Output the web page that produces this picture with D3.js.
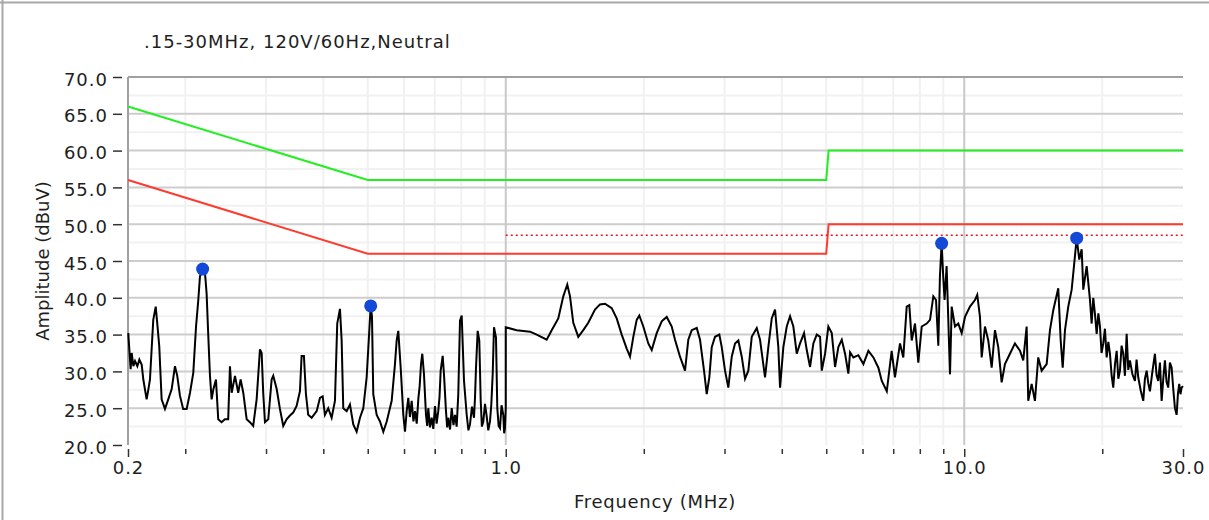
<!DOCTYPE html>
<html>
<head>
<meta charset="utf-8">
<script src="https://cdn.jsdelivr.net/npm/d3@7"></script>
<style>
  body { margin: 0; background: #fff; }
  svg { display: block; font-family: "DejaVu Sans", Verdana, sans-serif; }
</style>
</head>
<body>
<svg id="chart" width="1209" height="520"></svg>
<script>
// axis ticks
var yTicks = [20, 25, 30, 35, 40, 45, 50, 55, 60, 65, 70];
var yMinor = [22.5, 27.5, 32.5, 37.5, 42.5, 47.5, 52.5, 57.5, 62.5, 67.5];
var xMajor = [0.15, 1, 10, 30];
var xMajorLabels = ["0.2", "1.0", "10.0", "30.0"];
var xMinor = [0.2, 0.3, 0.4, 0.5, 0.6, 0.7, 0.8, 0.9, 2, 3, 4, 5, 6, 7, 8, 9, 20];

// limit lines (dBuV)
var limitFreqs = [0.15, 0.5, 5.0, 5.06, 30];
var qpLimit    = [66, 56, 56, 60, 60];
var avgLimit   = [56, 46, 46, 50, 50];
var marginFreqs = [1.0, 30];
var marginLevel = [48.5, 48.5];

// measured trace, 0.15 - 1 MHz sweep
var lowFreqs = [0.1502, 0.1520, 0.1528, 0.1541, 0.1554, 0.1572, 0.1588, 0.1607, 0.1620, 0.1647,
  0.1661, 0.1675, 0.1689, 0.1703, 0.1724, 0.1737, 0.1755, 0.1776, 0.1806, 0.1836,
  0.1868, 0.1899, 0.1921, 0.1947, 0.1979, 0.2014, 0.2048, 0.2082, 0.2111, 0.2135,
  0.2153, 0.2182, 0.2208, 0.2226, 0.2245, 0.2264, 0.2283, 0.2302, 0.2333, 0.2360,
  0.2400, 0.2440, 0.2481, 0.2503, 0.2525, 0.2567, 0.2609, 0.2641, 0.2676, 0.2722,
  0.2767, 0.2813, 0.2862, 0.2910, 0.2935, 0.2958, 0.2984, 0.3034, 0.3086, 0.3111,
  0.3165, 0.3217, 0.3271, 0.3327, 0.3383, 0.3439, 0.3498, 0.3557, 0.3587, 0.3629,
  0.3666, 0.3708, 0.3773, 0.3869, 0.3933, 0.3987, 0.4033, 0.4100, 0.4171, 0.4241,
  0.4290, 0.4349, 0.4386, 0.4422, 0.4498, 0.4573, 0.4650, 0.4729, 0.4809, 0.4890,
  0.4973, 0.5039, 0.5075, 0.5108, 0.5141, 0.5230, 0.5318, 0.5407, 0.5500, 0.5639,
  0.5733, 0.5782, 0.5829, 0.5900, 0.5978, 0.6029, 0.6080, 0.6130, 0.6180, 0.6235,
  0.6290, 0.6341, 0.6395, 0.6449, 0.6490, 0.6534, 0.6576, 0.6632, 0.6699, 0.6740,
  0.6777, 0.6835, 0.6893, 0.6950, 0.7009, 0.7066, 0.7125, 0.7170, 0.7212, 0.7285,
  0.7333, 0.7407, 0.7450, 0.7492, 0.7558, 0.7623, 0.7690, 0.7750, 0.7815, 0.7879,
  0.7947, 0.8015, 0.8109, 0.8219, 0.8290, 0.8356, 0.8440, 0.8526, 0.8570, 0.8612,
  0.8685, 0.8756, 0.8818, 0.8870, 0.8934, 0.9010, 0.9088, 0.9160, 0.9239, 0.9300,
  0.9365, 0.9426, 0.9522, 0.9584, 0.9650, 0.9715, 0.9790, 0.9877, 0.9920, 0.9960,
  1.0000];
var lowAmps = [35.2, 30.3, 32.5, 30.7, 31.4, 30.7, 31.6, 30.9, 28.9, 26.2,
  27.5, 28.9, 33.0, 37.0, 38.8, 36.6, 33.4, 26.2, 24.9, 26.2,
  27.6, 30.7, 29.4, 26.7, 24.9, 24.9, 27.1, 29.8, 36.1, 39.7,
  42.9, 43.9, 43.4, 40.6, 34.8, 29.4, 26.2, 27.5, 28.9, 23.5,
  23.1, 23.5, 23.5, 30.7, 27.1, 29.4, 27.1, 28.9, 27.1, 23.5,
  23.1, 22.6, 26.2, 33.0, 32.5, 27.1, 23.1, 23.5, 28.9, 29.4,
  27.6, 24.9, 22.6, 23.5, 24.0, 24.4, 25.3, 27.3, 32.1, 32.1,
  26.9, 24.1, 23.7, 24.6, 26.4, 26.6, 24.1, 25.0, 23.7, 26.0,
  36.5, 38.5, 34.2, 25.0, 24.6, 25.5, 22.8, 21.8, 23.7, 25.0,
  29.2, 35.5, 38.9, 37.4, 26.9, 24.1, 23.2, 21.8, 23.2, 26.0,
  31.0, 34.2, 35.5, 30.5, 24.1, 21.8, 24.6, 26.4, 23.8, 26.0,
  23.2, 24.6, 22.9, 26.4, 28.0, 31.0, 32.4, 29.6, 24.1, 22.6,
  25.0, 22.4, 23.7, 22.2, 25.3, 22.9, 24.6, 26.5, 30.1, 32.1,
  29.6, 24.6, 22.4, 23.7, 22.1, 25.0, 22.7, 24.1, 22.5, 26.9,
  36.9, 37.6, 28.7, 24.1, 22.0, 22.8, 25.2, 23.7, 26.5, 30.5,
  35.5, 34.2, 26.0, 22.5, 23.2, 25.6, 23.9, 22.0, 23.2, 25.5,
  29.6, 36.0, 34.6, 25.0, 22.6, 22.3, 25.4, 24.1, 21.6, 22.3,
  25.0];

// measured trace, 1 - 30 MHz sweep
var highFreqs = [1.0000, 1.0564, 1.1295, 1.1681, 1.2282, 1.2595, 1.3019, 1.3350, 1.3621, 1.3808,
  1.4038, 1.4395, 1.4760, 1.5135, 1.5654, 1.6053, 1.6461, 1.7025, 1.7457, 1.7903,
  1.8357, 1.8664, 1.8976, 1.9302, 1.9556, 1.9954, 2.0460, 2.0814, 2.1343, 2.1887,
  2.2442, 2.3014, 2.3398, 2.3993, 2.4602, 2.5013, 2.5446, 2.6092, 2.6529, 2.7068,
  2.7436, 2.7797, 2.8136, 2.8605, 2.9229, 2.9585, 3.0078, 3.0580, 3.1110, 3.1628,
  3.2156, 3.2713, 3.3258, 3.3813, 3.4397, 3.5270, 3.5861, 3.6772, 3.7385, 3.8033,
  3.8667, 3.9312, 3.9652, 4.0314, 4.1008, 4.1695, 4.2391, 4.3121, 4.3843, 4.4733,
  4.5342, 4.6101, 4.6871, 4.7678, 4.8476, 4.8893, 4.9707, 5.0536, 5.1412, 5.2269,
  5.3140, 5.4064, 5.4965, 5.5881, 5.6364, 5.7305, 5.8760, 6.0257, 6.1786, 6.3361,
  6.4969, 6.6095, 6.7772, 6.9458, 7.0615, 7.2427, 7.3637, 7.4904, 7.5889, 7.6814,
  7.8094, 7.9396, 8.0773, 8.2823, 8.4210, 8.5616, 8.6787, 8.7789, 8.8500, 8.9261,
  8.9978, 9.0597, 9.1527, 9.3095, 9.3896, 9.5460, 9.7052, 9.8723, 10.037, 10.292,
  10.553, 10.676, 10.822, 10.915, 11.097, 11.282, 11.477, 11.668, 11.863, 12.067,
  12.268, 12.580, 12.900, 13.228, 13.449, 13.680, 13.790, 14.029, 14.262, 14.500,
  14.752, 15.126, 15.380, 15.637, 16.034, 16.231, 16.396, 16.585, 16.861, 17.152,
  17.351, 17.588, 17.819, 18.036, 18.181, 18.494, 18.803, 18.960, 19.117, 19.280,
  19.446, 19.610, 19.770, 19.930, 20.100, 20.270, 20.446, 20.620, 20.788, 20.960,
  21.135, 21.320, 21.499, 21.680, 21.858, 22.040, 22.223, 22.410, 22.606, 22.790,
  22.983, 23.270, 23.567, 23.760, 23.960, 24.260, 24.571, 24.780, 24.994, 25.200,
  25.410, 25.730, 26.055, 26.270, 26.490, 26.720, 26.948, 27.170, 27.397, 27.620,
  27.854, 28.090, 28.336, 28.570, 28.808, 29.055, 29.250, 29.437, 29.620, 29.794,
  30.000];
var highAmps = [36.0, 35.6, 35.4, 35.0, 34.3, 35.6, 37.2, 40.2, 41.8, 40.2,
  36.6, 34.7, 35.6, 36.6, 38.4, 39.1, 39.2, 38.6, 37.2, 35.0,
  33.1, 32.0, 34.7, 37.0, 37.6, 36.1, 33.8, 32.9, 35.2, 36.8,
  37.4, 36.1, 34.3, 32.0, 30.1, 34.3, 35.6, 35.9, 34.3, 30.1,
  26.9, 29.2, 33.3, 34.7, 35.0, 33.3, 30.1, 27.8, 32.0, 33.8,
  34.2, 32.0, 29.0, 30.1, 34.7, 35.9, 34.3, 29.2, 33.3, 37.2,
  38.4, 33.3, 27.8, 33.3, 36.1, 37.5, 36.1, 32.4, 33.8, 35.2,
  32.9, 30.6, 33.8, 35.0, 34.7, 30.1, 32.4, 36.1, 35.2, 30.6,
  33.3, 34.3, 32.4, 29.7, 32.6, 31.9, 32.2, 31.0, 32.8, 31.9,
  30.5, 28.7, 27.3, 32.8, 29.2, 33.8, 31.9, 38.8, 39.0, 34.2,
  36.5, 31.2, 36.1, 36.5, 37.0, 40.2, 39.7, 33.5, 42.9, 47.4,
  42.9, 39.7, 44.3, 29.6, 38.8, 36.1, 36.5, 35.2, 37.4, 38.8,
  39.7, 40.4, 37.4, 31.9, 36.1, 34.2, 30.5, 35.6, 33.3, 28.5,
  31.0, 32.4, 33.8, 32.8, 31.5, 36.1, 26.0, 28.3, 26.0, 31.9,
  30.1, 31.0, 35.6, 38.3, 41.3, 34.2, 30.5, 35.6, 38.8, 41.1,
  44.3, 48.1, 45.2, 46.6, 41.1, 44.3, 39.7, 36.5, 40.0, 37.8,
  35.1, 37.9, 36.1, 32.5, 33.8, 35.8, 31.9, 34.0, 32.4, 29.5,
  27.8, 31.0, 32.8, 29.0, 30.1, 33.5, 32.4, 29.4, 35.1, 30.2,
  31.5, 29.6, 28.7, 31.6, 29.2, 27.4, 26.0, 29.0, 30.1, 28.4,
  27.3, 30.0, 32.4, 29.5, 28.7, 31.2, 26.0, 29.0, 31.5, 28.6,
  27.8, 31.2, 30.5, 27.6, 25.0, 24.1, 27.0, 28.3, 26.9, 27.8,
  28.0];

// peak markers
var peakFreqs = [0.2182, 0.5075, 8.9261, 17.588];
var peakAmps  = [43.9, 38.9, 47.4, 48.1];

var svg = d3.select("#chart");
var textColor = "#1e1e1e";

var x = d3.scaleLog().domain([0.15, 30]).range([128, 1183]);
var y = d3.scaleLinear().domain([20, 70]).range([445, 77]);

// outer frame (top and left edges)
svg.append("line").attr("x1", 0).attr("x2", 1209).attr("y1", 2.5).attr("y2", 2.5)
  .attr("stroke", "#a8a8a8").attr("stroke-width", 2);
svg.append("line").attr("x1", 2.5).attr("x2", 2.5).attr("y1", 0).attr("y2", 520)
  .attr("stroke", "#a8a8a8").attr("stroke-width", 2);

// grid
var grid = svg.append("g");
grid.selectAll(".hminor").data(yMinor).enter().append("line")
  .attr("x1", x(0.15)).attr("x2", x(30))
  .attr("y1", d => y(d)).attr("y2", d => y(d))
  .attr("stroke", "#f1f1f1").attr("stroke-width", 2);
grid.selectAll(".vminor").data(xMinor).enter().append("line")
  .attr("x1", d => x(d)).attr("x2", d => x(d))
  .attr("y1", y(70)).attr("y2", y(20))
  .attr("stroke", "#f1f1f1").attr("stroke-width", 2);
grid.selectAll(".hmajor").data(yTicks.slice(1, -1)).enter().append("line")
  .attr("x1", x(0.15)).attr("x2", x(30))
  .attr("y1", d => y(d)).attr("y2", d => y(d))
  .attr("stroke", "#cdcdcd").attr("stroke-width", 2);
grid.selectAll(".vmajor").data([1, 10]).enter().append("line")
  .attr("x1", d => x(d)).attr("x2", d => x(d))
  .attr("y1", y(70)).attr("y2", y(20))
  .attr("stroke", "#c8c8c8").attr("stroke-width", 2);
// plot frame top + left
grid.append("line").attr("x1", x(0.15)).attr("x2", x(30)).attr("y1", y(70)).attr("y2", y(70))
  .attr("stroke", "#a0a0a0").attr("stroke-width", 2);
grid.append("line").attr("x1", x(0.15)).attr("x2", x(0.15)).attr("y1", y(70)).attr("y2", y(20))
  .attr("stroke", "#a0a0a0").attr("stroke-width", 2);

// axes
var yAxis = svg.append("g").attr("transform", "translate(122,0)")
  .call(d3.axisLeft(y).tickValues(yTicks).tickFormat(d3.format(".1f")).tickSize(9).tickPadding(5));
var xAxis = svg.append("g").attr("transform", "translate(0,449)")
  .call(d3.axisBottom(x).tickValues(xMajor).tickFormat((d, i) => xMajorLabels[i]).tickSize(8).tickPadding(4));
var xAxisMinor = svg.append("g").attr("transform", "translate(0,449)")
  .call(d3.axisBottom(x).tickValues(xMinor).tickFormat("").tickSize(5));

[yAxis, xAxis, xAxisMinor].forEach(function(a) {
  a.select(".domain").remove();
  a.selectAll(".tick line").attr("stroke", "#333").attr("stroke-width", 1.5);
  a.selectAll(".tick text").attr("fill", textColor)
    .style("font-size", "18px").style("letter-spacing", "1px")
    .style("font-family", "'DejaVu Sans', Verdana, sans-serif");
});
yAxis.selectAll(".tick text").attr("dy", "0.45em");

// limit lines
var line = d3.line().x(d => x(d[0])).y(d => y(d[1]));
svg.append("path").datum(d3.zip(limitFreqs, qpLimit))
  .attr("d", line).attr("fill", "none").attr("stroke", "#22ee22").attr("stroke-width", 2);
svg.append("path").datum(d3.zip(limitFreqs, avgLimit))
  .attr("d", line).attr("fill", "none").attr("stroke", "#ff3b30").attr("stroke-width", 2);
svg.append("path").datum(d3.zip(marginFreqs, marginLevel))
  .attr("d", line).attr("fill", "none").attr("stroke", "#e8141b")
  .attr("stroke-width", 1.5).attr("stroke-dasharray", "2,3");

// trace
var trace = d3.zip(lowFreqs.concat(highFreqs), lowAmps.concat(highAmps));
svg.append("path").datum(trace)
  .attr("d", line).attr("fill", "none").attr("stroke", "#000")
  .attr("stroke-width", 2).attr("stroke-linejoin", "miter");

// peak markers
svg.selectAll(".peak").data(d3.zip(peakFreqs, peakAmps)).enter().append("circle")
  .attr("cx", d => x(d[0])).attr("cy", d => y(d[1])).attr("r", 6.5)
  .attr("fill", "#1448d6");

// titles
svg.append("text").attr("x", 144).attr("y", 48)
  .attr("fill", textColor).style("font-size", "18px").style("letter-spacing", "1px")
  .text(".15-30MHz, 120V/60Hz,Neutral");
svg.append("text").attr("x", 655).attr("y", 508).attr("text-anchor", "middle")
  .attr("fill", textColor).style("font-size", "18px").style("letter-spacing", "0.7px")
  .text("Frequency (MHz)");
svg.append("text").attr("transform", "translate(49,261) rotate(-90)")
  .attr("text-anchor", "middle")
  .attr("fill", textColor).style("font-size", "18px")
  .text("Amplitude (dBuV)");
</script>
</body>
</html>
